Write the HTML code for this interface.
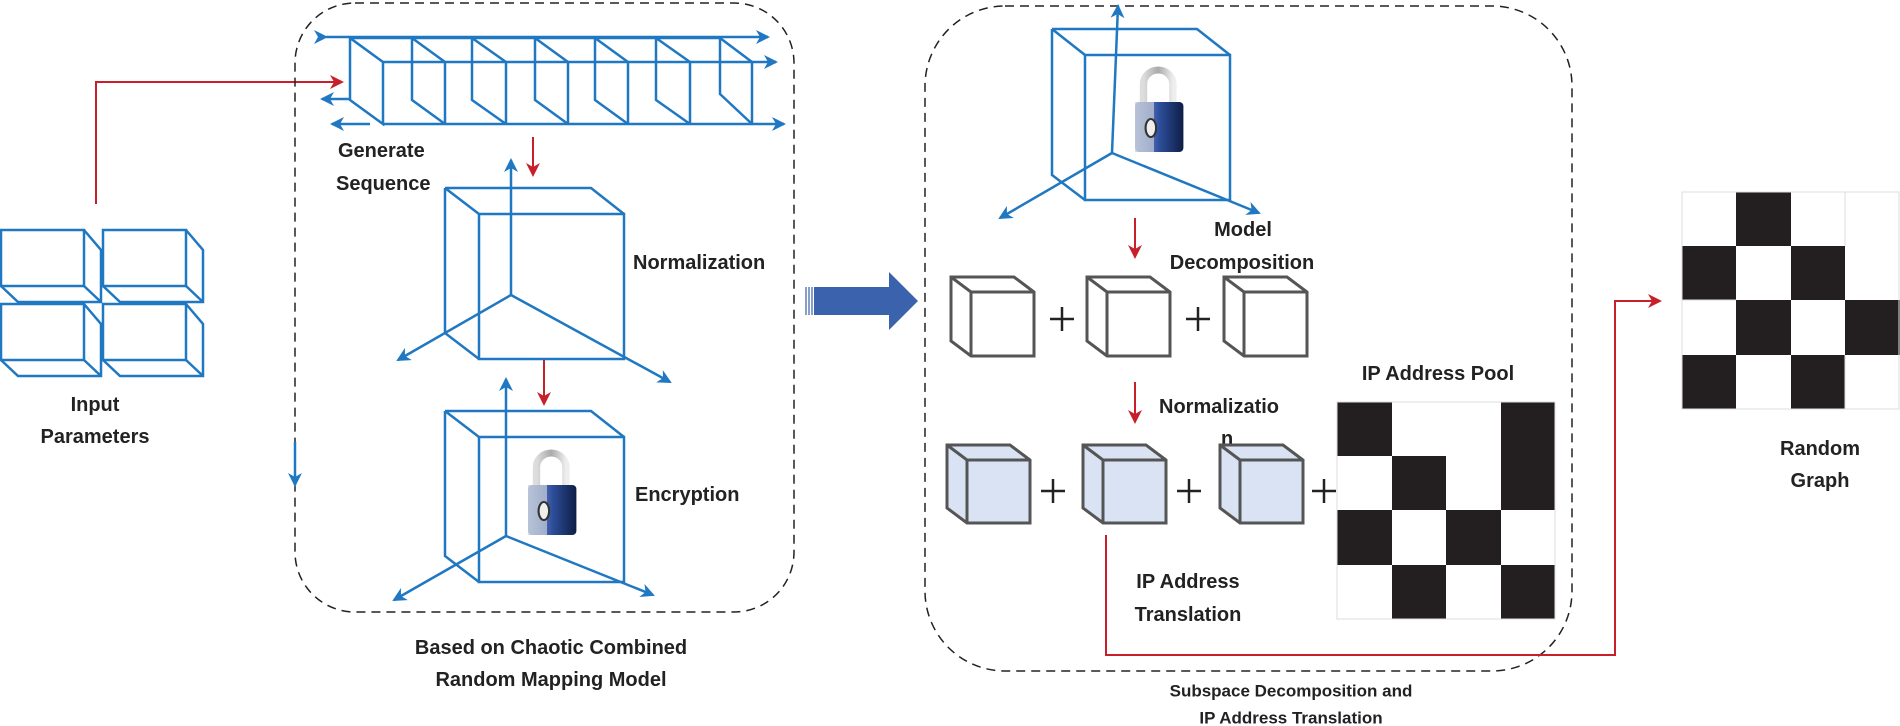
<!DOCTYPE html>
<html><head><meta charset="utf-8"><style>
html,body{margin:0;padding:0;background:#fff;}
svg{display:block;}
text{font-family:"Liberation Sans",sans-serif;font-weight:bold;fill:#222;dominant-baseline:central;}
</style></head><body>
<svg width="1900" height="726" viewBox="0 0 1900 726" xmlns="http://www.w3.org/2000/svg">
<defs>
<marker id="ab" markerWidth="14" markerHeight="14" refX="12" refY="7" orient="auto" markerUnits="userSpaceOnUse"><path d="M0,0 L14,7 L0,14 L4,7z" fill="#1f78c1"/></marker>
<marker id="ar" markerWidth="14" markerHeight="14" refX="12" refY="7" orient="auto" markerUnits="userSpaceOnUse"><path d="M0,0 L14,7 L0,14 L4,7z" fill="#c8202a"/></marker>
<linearGradient id="lb" x1="0" x2="1"><stop offset="0" stop-color="#8fa6d6"/><stop offset="0.5" stop-color="#2e4f9c"/><stop offset="1" stop-color="#0e1d45"/></linearGradient>
<linearGradient id="ls" x1="0" x2="1"><stop offset="0" stop-color="#ddd"/><stop offset="0.5" stop-color="#aaa"/><stop offset="1" stop-color="#eee"/></linearGradient>
<g id="lock">
<path d="M10,34 V14 A14,14 0 0 1 38,14 V34" fill="none" stroke="url(#ls)" stroke-width="7"/>
<rect x="2" y="32" width="46" height="50" rx="4" fill="url(#lb)"/>
<rect x="2" y="32" width="18" height="50" fill="#c9cfd8" opacity="0.7"/>
<ellipse cx="17" cy="58" rx="5" ry="9" fill="#eee" stroke="#333" stroke-width="2"/>
</g>
</defs>

<g fill="none" stroke="#1f78c1" stroke-width="2.5">
<g id="ic"><rect x="1" y="230" width="83" height="56"/><path d="M84,230 L101,250 V302 H18 L1,286 M84,286 L101,302"/></g>
<use href="#ic" x="102"/><use href="#ic" y="74"/><use href="#ic" x="102" y="74"/>
</g>
<text x="95" y="405" font-size="20" text-anchor="middle">Input</text>
<text x="95" y="437" font-size="20" text-anchor="middle">Parameters</text>
<path d="M96,204 V82 H342" fill="none" stroke="#c8202a" stroke-width="2" marker-end="url(#ar)"/>

<rect x="295" y="3" width="499" height="609" rx="60" fill="none" stroke="#222" stroke-width="1.5" stroke-dasharray="9,6"/>

<g fill="none" stroke="#1f78c1" stroke-width="2.5">
<path d="M326,37 H768" marker-end="url(#ab)" marker-start="url(#ab)"/>
<path d="M383,62 H776" marker-end="url(#ab)"/>
<path d="M350,99 H322" marker-end="url(#ab)"/>
<path d="M370,124 H332" marker-end="url(#ab)"/>
<path d="M383,124 H784" marker-end="url(#ab)"/>
<path d="M350,38 V100 L383,124 V62 Z M350,38 H720"/>
<path d="M412,38 L445,62 V124 M412,38 V100 L445,124"/>
<path d="M472,38 L506,62 V124 M472,38 V100 L506,124"/>
<path d="M535,38 L568,62 V124 M535,38 V100 L568,124"/>
<path d="M595,38 L628,62 V124 M595,38 V100 L628,124"/>
<path d="M656,38 L690,62 V124 M656,38 V100 L690,124"/>
<path d="M720,38 L752,62 V124 M720,38 V94 L752,124"/>
</g>
<text x="338" y="151" font-size="20">Generate</text>
<text x="336" y="184" font-size="20">Sequence</text>
<path d="M533,137 V175" stroke="#c8202a" stroke-width="2" marker-end="url(#ar)"/>

<g fill="none" stroke="#1f78c1" stroke-width="2.5">
<path d="M445,188 H591 L624,214 M445,188 L479,214 M445,188 V333 L479,359"/>
<rect x="479" y="214" width="145" height="145"/>
<path d="M511,295 V160" marker-end="url(#ab)"/>
<path d="M511,295 L398,360" marker-end="url(#ab)"/>
<path d="M511,295 L670,382" marker-end="url(#ab)"/>
</g>
<text x="633" y="263" font-size="20">Normalization</text>
<path d="M544,360 V404" stroke="#c8202a" stroke-width="2" marker-end="url(#ar)"/>

<g fill="none" stroke="#1f78c1" stroke-width="2.5">
<path d="M445,411 H591 L624,437 M445,411 L479,437 M445,411 V556 L479,582"/>
<rect x="479" y="437" width="145" height="145"/>
<path d="M506,536 V379" marker-end="url(#ab)"/>
<path d="M506,536 L394,600" marker-end="url(#ab)"/>
<path d="M506,536 L653,595" marker-end="url(#ab)"/>
<path d="M295,442 V485" marker-end="url(#ab)"/>
</g>
<use href="#lock" transform="translate(526,453) scale(1.05,1.0)"/>
<text x="635" y="495" font-size="20">Encryption</text>

<text x="551" y="648" font-size="20" text-anchor="middle">Based on Chaotic Combined</text>
<text x="551" y="680" font-size="20" text-anchor="middle">Random Mapping Model</text>

<path d="M814,287 H889 V272 L918,301 L889,330 V315 H814 Z" fill="#3a62ad"/>
<path d="M806,287 V315 M809,287 V315 M812,287 V315" stroke="#3a62ad" stroke-width="1.2"/>

<rect x="925" y="6" width="647" height="665" rx="80" fill="none" stroke="#222" stroke-width="1.5" stroke-dasharray="9,6"/>

<g fill="none" stroke="#1f78c1" stroke-width="2.5">
<path d="M1052,29 H1197 L1230,55 M1052,29 L1085,55 M1052,29 V175 L1085,200"/>
<rect x="1085" y="55" width="145" height="145"/>
<path d="M1112,153 L1118,6" marker-end="url(#ab)"/>
<path d="M1112,153 L1000,218" marker-end="url(#ab)"/>
<path d="M1112,153 L1259,213" marker-end="url(#ab)"/>
</g>
<use href="#lock" transform="translate(1133,70) scale(1.05,1.0)"/>
<path d="M1135,218 V257" stroke="#c8202a" stroke-width="2" marker-end="url(#ar)"/>
<text x="1243" y="230" font-size="20" text-anchor="middle">Model</text>
<text x="1242" y="263" font-size="20" text-anchor="middle">Decomposition</text>

<g fill="#fff" stroke="#555" stroke-width="3">
<g id="gc"><path d="M951,292 V341 L971,356 H1034 V292 L1014,277 H951 Z M951,277 L971,292 H1034 M971,292 V356"/></g>
<use href="#gc" x="136"/><use href="#gc" x="273"/>
</g>
<g stroke="#222" stroke-width="2.5"><path d="M1050,319 H1074 M1062,307 V331 M1186,319 H1210 M1198,307 V331"/></g>
<path d="M1135,382 V422" stroke="#c8202a" stroke-width="2" marker-end="url(#ar)"/>
<text x="1159" y="407" font-size="20">Normalizatio</text>
<text x="1221" y="439" font-size="20">n</text>

<g fill="#dae3f3" stroke="#555" stroke-width="3">
<g id="bc"><path d="M947,460 V508 L967,523 H1030 V460 L1010,445 H947 Z"/><path d="M947,445 L967,460 H1030 M967,460 V523" fill="none"/></g>
<use href="#bc" x="136"/><use href="#bc" x="273"/>
</g>
<g stroke="#222" stroke-width="2.5"><path d="M1041,491 H1065 M1053,479 V503 M1177,491 H1201 M1189,479 V503 M1312,491 H1336 M1324,479 V503"/></g>

<text x="1438" y="374" font-size="20" text-anchor="middle">IP Address Pool</text>
<g fill="#231f20">
<rect x="1337" y="402" width="55" height="54"/><rect x="1501" y="402" width="54" height="54"/>
<rect x="1392" y="456" width="54" height="54"/><rect x="1501" y="456" width="54" height="54"/>
<rect x="1337" y="510" width="55" height="55"/><rect x="1446" y="510" width="55" height="55"/>
<rect x="1392" y="565" width="54" height="54"/><rect x="1501" y="565" width="54" height="54"/>
</g>
<rect x="1337" y="402" width="218" height="217" fill="none" stroke="#ddd" stroke-width="1"/>

<text x="1188" y="582" font-size="20" text-anchor="middle">IP Address</text>
<text x="1188" y="615" font-size="20" text-anchor="middle">Translation</text>
<path d="M1106,535 V655 H1615 V301 H1660" fill="none" stroke="#c8202a" stroke-width="2" marker-end="url(#ar)"/>

<g fill="#231f20">
<rect x="1736" y="192" width="55" height="54"/>
<rect x="1682" y="246" width="54" height="54"/><rect x="1791" y="246" width="54" height="54"/>
<rect x="1736" y="300" width="55" height="55"/><rect x="1845" y="300" width="55" height="55"/>
<rect x="1682" y="355" width="54" height="54"/><rect x="1791" y="355" width="54" height="54"/>
</g>
<g stroke="#ddd" stroke-width="1" fill="none"><rect x="1682" y="192" width="217" height="217"/><path d="M1845,192 V246 M1845,355 V409 M1682,300 H1736"/></g>
<text x="1820" y="449" font-size="20" text-anchor="middle">Random</text>
<text x="1820" y="481" font-size="20" text-anchor="middle">Graph</text>

<text x="1291" y="691" font-size="17" text-anchor="middle">Subspace Decomposition and</text>
<text x="1291" y="718" font-size="17" text-anchor="middle">IP Address Translation</text>
</svg>
</body></html>
